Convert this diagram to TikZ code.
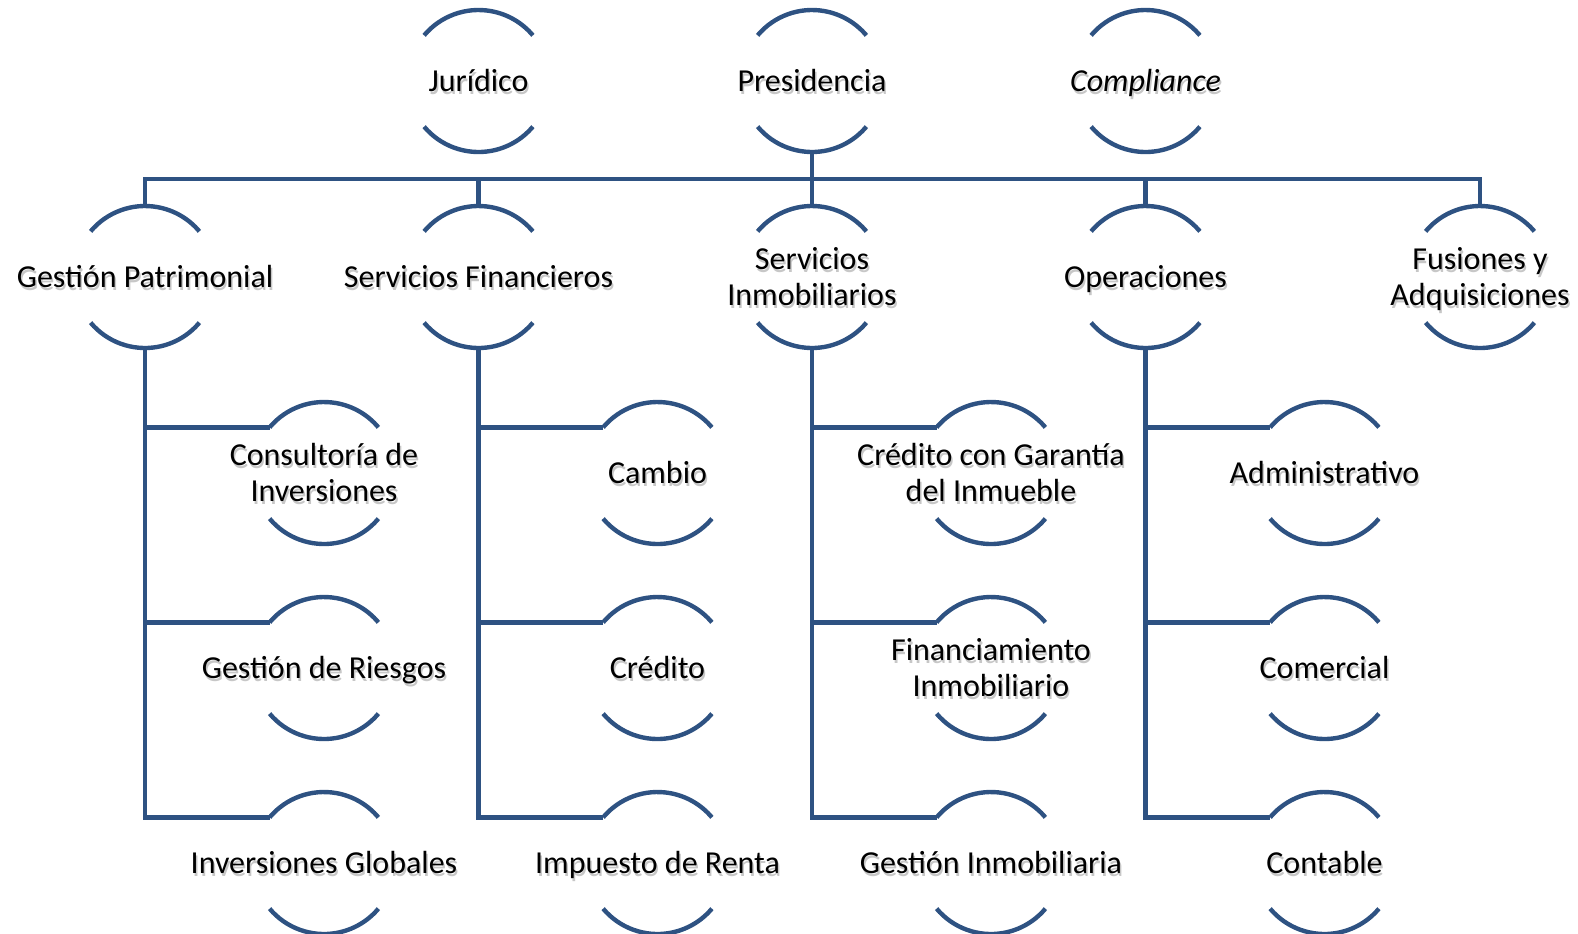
\documentclass[tikz,border=0pt]{standalone}
\usepackage{fontspec}
\setmainfont{Carlito}
\usepackage{tikz}
\usetikzlibrary{calc}
\usepackage{xcolor}

\definecolor{orgblue}{RGB}{46,82,130}

\tikzset{
  conn/.style={line width=2.2pt, orgblue},
  arcline/.style={line width=2.2pt, orgblue},
  lbl/.style={align=center, font=\fontsize{16}{18}\selectfont, inner sep=0pt},
  lblshadow/.style={lbl, text=black, opacity=0.22},
}

% one unit: two arcs of a circle round a label
\newcommand{\orgunit}[4]{%
  \coordinate (#1) at (#2,#3);
  \node[lblshadow] (#1-sh) at ($(#1)+(1.5,-6)$) {\strut #4\strut};
  \node[lbl] (#1-l) at ($(#1)+(0,-3.5)$) {\strut #4\strut};
  \coordinate (#1-n) at ($(#1)+(0,71)$);
  \coordinate (#1-s) at ($(#1)+(0,-71)$);
  \coordinate (#1-w) at ($(#1)+(140:71)$);
  \draw[arcline] (#1-w) arc[start angle=140, end angle=40, radius=71];
  \draw[arcline] ($(#1)+(220:71)$) arc[start angle=220, end angle=320, radius=71];
}

\begin{document}
\begin{tikzpicture}[x=0.5pt, y=0.5pt]

\useasboundingbox (0,0) rectangle (1578,-933);

%top row
\orgunit{jur}{478.5}{-81}{Jurídico}
\orgunit{pres}{812}{-81}{Presidencia}
\orgunit{comp}{1145.5}{-81}{\textit{Compliance}}

%areas
\orgunit{gp}{145}{-277}{Gestión Patrimonial}
\orgunit{sf}{478.5}{-277}{Servicios Financieros}
\orgunit{si}{812}{-277}{Servicios\\Inmobiliarios}
\orgunit{op}{1145.5}{-277}{Operaciones}
\orgunit{fa}{1480}{-277}{Fusiones y\\Adquisiciones}

%units under each area
\orgunit{ci}{324}{-473}{Consultoría de\\Inversiones}
\orgunit{gr}{324}{-668}{Gestión de Riesgos}
\orgunit{ig}{324}{-863}{Inversiones Globales}

\orgunit{cam}{657.5}{-473}{Cambio}
\orgunit{cred}{657.5}{-668}{Crédito}
\orgunit{ir}{657.5}{-863}{Impuesto de Renta}

\orgunit{cgi}{991}{-473}{Crédito con Garantía\\del Inmueble}
\orgunit{fi}{991}{-668}{Financiamiento\\Inmobiliario}
\orgunit{gi}{991}{-863}{Gestión Inmobiliaria}

\orgunit{adm}{1324.5}{-473}{Administrativo}
\orgunit{com}{1324.5}{-668}{Comercial}
\orgunit{cont}{1324.5}{-863}{Contable}

%bus
\coordinate (bus) at (0,-179);
\draw[conn] (gp-n) -- (gp-n |- bus) -- (fa-n |- bus) -- (fa-n);
\draw[conn] (sf-n) -- (sf-n |- bus);
\draw[conn] (op-n) -- (op-n |- bus);
\draw[conn] (pres-s) -- (si-n);

%branches
\foreach \a/\b/\c/\d in {gp/ci/gr/ig, sf/cam/cred/ir, si/cgi/fi/gi, op/adm/com/cont}{
  \draw[conn] (\a-s) |- (\d-w);
  \draw[conn] (\a-s |- \b-w) -- (\b-w);
  \draw[conn] (\a-s |- \c-w) -- (\c-w);
}

\end{tikzpicture}
\end{document}
